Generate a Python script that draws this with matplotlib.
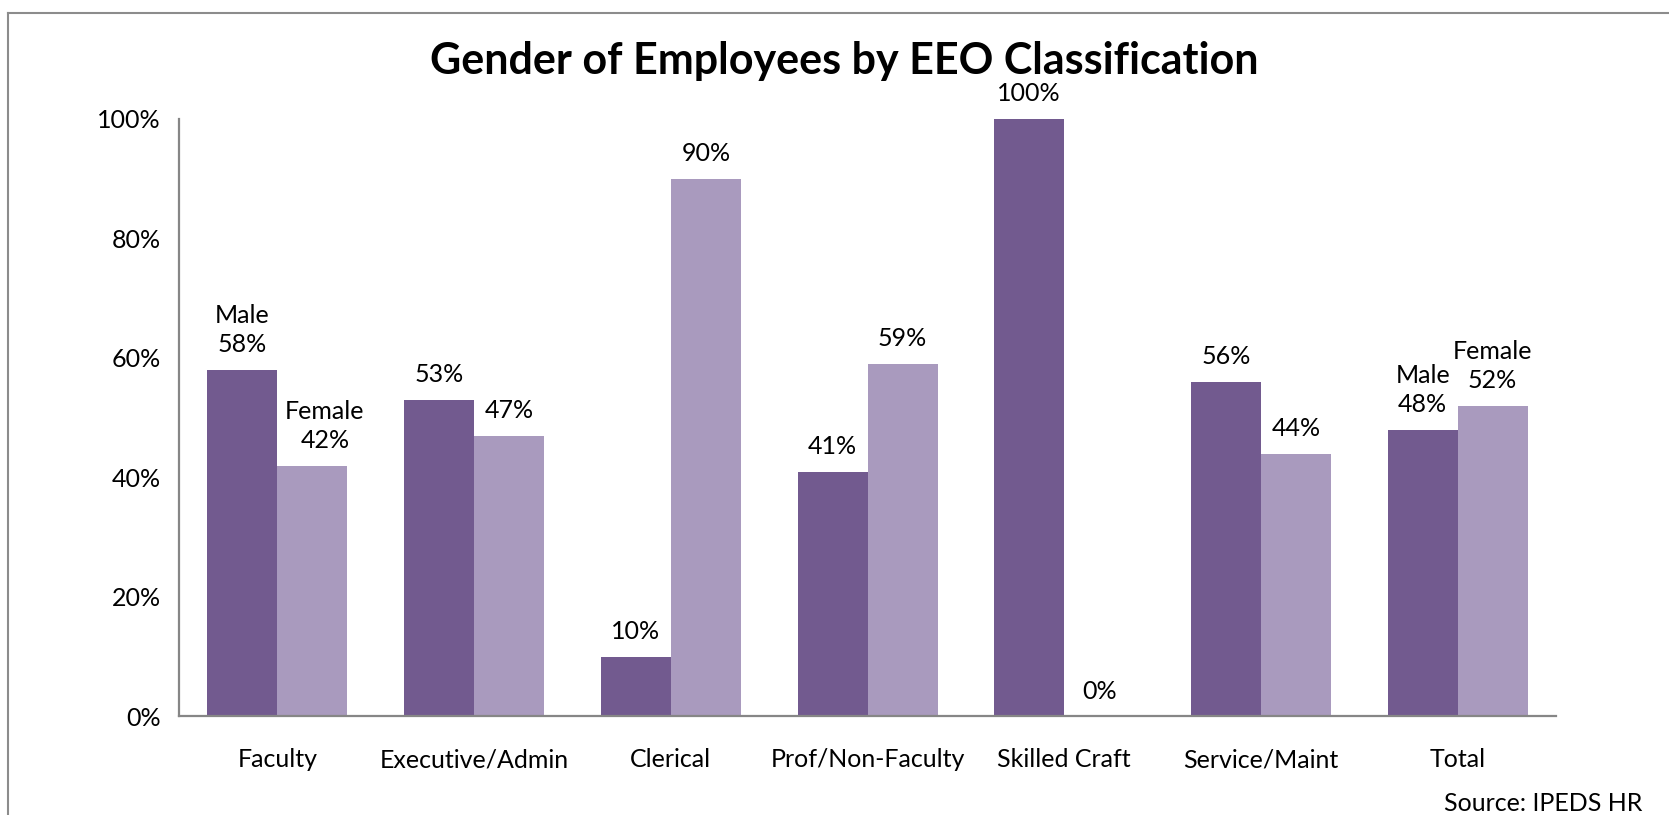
import numpy as np
import matplotlib
matplotlib.use('Agg')
from matplotlib import pyplot as plt
from matplotlib.lines import Line2D

plt.rcParams['font.family'] = ['Lato', 'DejaVu Sans']

categories = ['Faculty', 'Executive/Admin', 'Clerical', 'Prof/Non-Faculty',
              'Skilled Craft', 'Service/Maint', 'Total']
male = [58, 53, 10, 41, 100, 56, 48]
female = [42, 47, 90, 59, 0, 44, 52]
yticks = [0, 20, 40, 60, 80, 100]

male_color = '#725A8F'
female_color = '#A99ABE'
axis_grey = '#868686'

fig = plt.figure(figsize=(16.69, 8.15), dpi=100)
ax = fig.add_axes([0.1073, 0.1209, 0.8250, 0.7331])

x = np.arange(len(categories))
w = 0.356
bars_m = ax.bar(x - w / 2, male, w, color=male_color)
bars_f = ax.bar(x + w / 2, female, w, color=female_color)

fs = 18
for i, (b, v) in enumerate(zip(bars_m, male)):
    txt = f'{v}%'
    if i in (0, 6):
        txt = 'Male\n' + txt
    ax.annotate(txt, (b.get_x() + b.get_width() / 2, v), xytext=(0, 10),
                textcoords='offset points', ha='center', va='bottom',
                fontsize=fs, linespacing=1.3)
for i, (b, v) in enumerate(zip(bars_f, female)):
    txt = f'{v}%'
    dx = 0
    if i in (0, 6):
        txt = 'Female\n' + txt
    if i == 0:
        dx = 9
    ax.annotate(txt, (b.get_x() + b.get_width() / 2, v), xytext=(dx, 10),
                textcoords='offset points', ha='center', va='bottom',
                fontsize=fs, linespacing=1.3)

ax.set_xlim(-0.5, len(categories) - 0.5)
ax.set_ylim(0, 100)
ax.set_yticks(yticks)
ax.set_yticklabels([f'{t}%' for t in yticks], fontsize=fs)
ax.set_xticks(x)
ax.set_xticklabels(categories, fontsize=fs)
ax.tick_params(axis='y', length=0, pad=13)
ax.tick_params(axis='x', length=0, pad=23)
for s in ['top', 'right']:
    ax.spines[s].set_visible(False)
for s in ['left', 'bottom']:
    ax.spines[s].set_color(axis_grey)
    ax.spines[s].set_linewidth(1.6)

fig.text(0.506, 0.925, 'Gender of Employees by EEO Classification',
         ha='center', va='center', fontsize=31, fontweight='bold')
fig.text(0.984, 0.0135, 'Source: IPEDS HR', ha='right', va='center', fontsize=fs)

# outer chart frame (only left and top edges fall inside the picture)
fig.add_artist(Line2D([0.0045, 0.0045], [0, 0.984], transform=fig.transFigure,
                      color='#8C8C8C', lw=1.5))
fig.add_artist(Line2D([0.0045, 1], [0.984, 0.984], transform=fig.transFigure,
                      color='#8C8C8C', lw=1.5))

fig.savefig('out.png', dpi=100)
